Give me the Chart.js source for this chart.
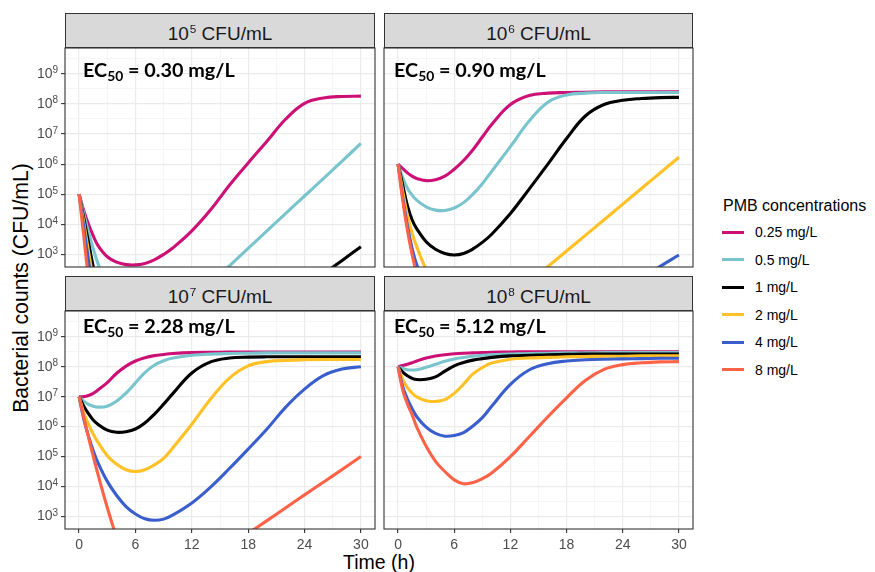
<!DOCTYPE html>
<html>
<head>
<meta charset="utf-8">
<title>PMB time-kill simulations</title>
<script src="https://cdn.jsdelivr.net/npm/chart.js@4.4.1/dist/chart.umd.min.js"></script>
<style>
    body { margin: 0; background: #ffffff; }
    #figure { position: relative; width: 875px; height: 572px; overflow: hidden; background: #ffffff;
              font-family: 'Liberation Sans', Arial, sans-serif; }
    #figure canvas { position: absolute; }
    .strip { position: absolute; box-sizing: border-box; height: 35px; background: #D9D9D9; border: 1px solid #333333;
             color: #1A1A1A; font-size: 19px; line-height: 40px; text-align: center; white-space: nowrap; }
    .strip sup { font-size: 0.62em; line-height: 0; vertical-align: 0; position: relative; top: -0.6em; margin-left: 1px; }
    .ec50 { position: absolute; font-family: Lato, 'Open Sans', sans-serif; font-weight: bold; font-size: 19.8px;
            line-height: 19px; color: #000000; white-space: nowrap; }
    .ec50 sub { font-size: 0.7em; line-height: 0; vertical-align: 0; position: relative; top: 0.3em; }
    .axis-title { position: absolute; line-height: 20px; color: #000000; text-align: center; white-space: nowrap; }
    .legend-title { position: absolute; left: 723px; top: 198px; font-size: 16px; line-height: 16px; color: #000000; }
    .legend-key { position: absolute; left: 722px; width: 22px; height: 3px; }
    .legend-label { position: absolute; left: 755px; font-size: 14px; line-height: 14px; color: #000000; }
</style>
</head>
<body>
<div id="figure">
    <div class="axis-title" style="left: -129px; top: 278px; width: 300px; font-size: 21.2px; transform: rotate(-90deg);">Bacterial counts (CFU/mL)</div>
    <div class="axis-title" style="left: 279px; top: 552px; width: 200px; font-size: 19.5px;">Time (h)</div>
</div>
<script>
// sampling times (h)
const times = [0, 0.5, 1, 1.5, 2, 3, 4, 5, 6, 7, 8, 9, 10, 12, 14, 16, 18, 20, 22, 24, 26, 28, 30];

const concentrations = ['0.25 mg/L', '0.5 mg/L', '1 mg/L', '2 mg/L', '4 mg/L', '8 mg/L'];
const lineColors = ['#CD1076', '#7AC5CD', '#000000', '#FFC125', '#3A5FCD', '#FF6347'];

// initial inoculum (log10 CFU/mL) and fitted EC50 for each panel
const inoculumLog = [5, 6, 7, 8];
const ec50Labels = ['0.30', '0.90', '2.28', '5.12'];

// predicted counts, log10 CFU/mL, one row per PMB concentration
const inoculum1e5 = [
    [5.00, 4.45, 4.00, 3.62, 3.30, 2.92, 2.74, 2.66, 2.65, 2.70, 2.82, 3.00, 3.22, 3.78, 4.48, 5.30, 6.04, 6.76, 7.50, 8.02, 8.20, 8.25, 8.26],
    [5.00, 4.35, 3.75, 3.20, 2.70, 2.00, 1.55, 1.25, 1.05, 0.95, 0.92, 0.95, 1.05, 1.45, 2.03, 2.62, 3.20, 3.78, 4.36, 4.94, 5.52, 6.10, 6.69],
    [5.00, 4.20, 3.40, 2.60, 1.90, 0.95, 0.35, -0.05, -0.30, -0.45, -0.55, -0.58, -0.58, -0.45, -0.20, 0.12, 0.50, 0.96, 1.42, 1.88, 2.34, 2.80, 3.25],
    [5.00, 4.05, 3.10, 2.20, 1.45, 0.50, -0.10, -0.50, -0.75, -0.90, -1.00, -1.05, -1.05, -0.95, -0.75, -0.50, -0.20, 0.10, 0.40, 0.70, 1.00, 1.30, 1.60],
    [5.00, 3.90, 2.80, 1.85, 1.05, 0.00, -0.70, -1.20, -1.55, -1.80, -1.95, -2.05, -2.10, -2.05, -1.90, -1.70, -1.45, -1.20, -0.95, -0.70, -0.45, -0.20, 0.05],
    [5.00, 3.60, 2.20, 1.05, 0.10, -1.20, -2.00, -2.55, -2.90, -3.15, -3.30, -3.40, -3.45, -3.45, -3.35, -3.20, -3.00, -2.80, -2.60, -2.40, -2.20, -2.00, -1.80]
];
const inoculum1e6 = [
    [6.00, 5.85, 5.71, 5.60, 5.52, 5.45, 5.48, 5.60, 5.83, 6.12, 6.48, 6.90, 7.32, 7.98, 8.28, 8.36, 8.38, 8.39, 8.40, 8.40, 8.40, 8.40, 8.40],
    [6.00, 5.55, 5.20, 4.97, 4.80, 4.58, 4.47, 4.46, 4.54, 4.72, 5.00, 5.35, 5.76, 6.58, 7.43, 8.06, 8.30, 8.36, 8.38, 8.38, 8.38, 8.38, 8.38],
    [6.00, 5.30, 4.62, 4.15, 3.85, 3.42, 3.17, 3.03, 2.98, 3.03, 3.18, 3.40, 3.67, 4.36, 5.17, 6.00, 6.85, 7.60, 7.98, 8.12, 8.18, 8.21, 8.22],
    [6.00, 5.10, 4.30, 3.70, 3.25, 2.50, 2.00, 1.70, 1.50, 1.40, 1.35, 1.35, 1.40, 1.62, 2.02, 2.59, 3.11, 3.63, 4.15, 4.67, 5.19, 5.71, 6.23],
    [6.00, 4.90, 3.95, 3.20, 2.65, 1.90, 1.40, 1.05, 0.80, 0.62, 0.50, 0.42, 0.38, 0.36, 0.42, 0.55, 0.80, 1.10, 1.45, 1.82, 2.20, 2.60, 2.98],
    [6.00, 4.80, 3.80, 3.00, 2.35, 1.40, 0.70, 0.20, -0.10, -0.30, -0.40, -0.45, -0.45, -0.35, -0.15, 0.10, 0.35, 0.60, 0.85, 1.10, 1.35, 1.60, 1.85]
];
const inoculum1e7 = [
    [7.00, 7.00, 7.04, 7.11, 7.22, 7.47, 7.78, 8.02, 8.19, 8.30, 8.37, 8.41, 8.44, 8.47, 8.48, 8.49, 8.49, 8.49, 8.49, 8.49, 8.49, 8.49, 8.49],
    [7.00, 6.85, 6.74, 6.68, 6.65, 6.68, 6.85, 7.12, 7.46, 7.80, 8.05, 8.20, 8.29, 8.38, 8.42, 8.44, 8.45, 8.46, 8.46, 8.46, 8.46, 8.46, 8.46],
    [7.00, 6.68, 6.43, 6.22, 6.08, 5.88, 5.81, 5.83, 5.92, 6.12, 6.41, 6.75, 7.11, 7.79, 8.16, 8.29, 8.32, 8.33, 8.33, 8.33, 8.33, 8.33, 8.33],
    [7.00, 6.45, 6.08, 5.75, 5.48, 5.03, 4.74, 4.56, 4.50, 4.56, 4.72, 4.94, 5.30, 6.08, 6.92, 7.62, 8.03, 8.17, 8.21, 8.23, 8.24, 8.24, 8.24],
    [7.00, 6.25, 5.68, 5.20, 4.80, 4.17, 3.70, 3.33, 3.08, 2.92, 2.87, 2.91, 3.05, 3.45, 3.98, 4.60, 5.25, 5.92, 6.65, 7.25, 7.70, 7.92, 8.00],
    [7.00, 6.30, 5.65, 5.02, 4.42, 3.30, 2.30, 1.50, 1.00, 0.75, 0.65, 0.65, 0.75, 1.15, 1.57, 2.00, 2.43, 2.86, 3.29, 3.72, 4.14, 4.57, 5.00]
];
const inoculum1e8 = [
    [8.00, 8.04, 8.08, 8.13, 8.19, 8.29, 8.36, 8.40, 8.43, 8.45, 8.46, 8.47, 8.48, 8.49, 8.50, 8.50, 8.50, 8.50, 8.50, 8.50, 8.50, 8.50, 8.50],
    [8.00, 7.94, 7.90, 7.89, 7.90, 7.98, 8.08, 8.18, 8.26, 8.31, 8.35, 8.38, 8.40, 8.42, 8.44, 8.45, 8.46, 8.46, 8.47, 8.47, 8.47, 8.47, 8.47],
    [8.00, 7.82, 7.70, 7.61, 7.57, 7.58, 7.66, 7.85, 8.03, 8.14, 8.22, 8.27, 8.31, 8.36, 8.38, 8.40, 8.41, 8.42, 8.42, 8.42, 8.42, 8.42, 8.42],
    [8.00, 7.58, 7.30, 7.12, 6.99, 6.86, 6.84, 6.90, 7.11, 7.42, 7.76, 7.97, 8.12, 8.25, 8.29, 8.31, 8.33, 8.34, 8.35, 8.35, 8.36, 8.36, 8.36],
    [8.00, 7.33, 6.92, 6.60, 6.33, 5.98, 5.77, 5.68, 5.70, 5.80, 6.02, 6.30, 6.68, 7.41, 7.89, 8.10, 8.19, 8.23, 8.25, 8.26, 8.27, 8.28, 8.28],
    [8.00, 7.22, 6.76, 6.40, 5.98, 5.34, 4.84, 4.50, 4.22, 4.09, 4.13, 4.26, 4.45, 5.00, 5.66, 6.33, 6.96, 7.54, 7.91, 8.07, 8.13, 8.16, 8.17]
];
const panelSeries = [inoculum1e5, inoculum1e6, inoculum1e7, inoculum1e8];

// axes: x in hours, y grid in log10 steps (whole = major, half = minor)
const xRange = [-1.5, 31.5];
const xGridTicks = [0, 3, 6, 9, 12, 15, 18, 21, 24, 27, 30];
const yRangeLog = [2.58, 9.86];
const yGridLogs = [3, 3.5, 4, 4.5, 5, 5.5, 6, 6.5, 7, 7.5, 8, 8.5, 9, 9.5];

const tickFont = "'Liberation Sans', Arial, sans-serif";

// canvas placement of the four facets
const panelLayout = [
    { left: 0,   top: 40,  width: 380, height: 235, pad: { top: 8, right: 5, bottom: 8,  left: 0 }, showX: false, showY: true,  ecLeft: 83,  ecTop: 59.5 },
    { left: 380, top: 40,  width: 320, height: 235, pad: { top: 8, right: 7, bottom: 8,  left: 0 }, showX: false, showY: false, ecLeft: 394, ecTop: 59.5 },
    { left: 0,   top: 303, width: 380, height: 269, pad: { top: 8, right: 5, bottom: 21, left: 0 }, showX: true,  showY: true,  ecLeft: 83,  ecTop: 315.5 },
    { left: 380, top: 303, width: 320, height: 269, pad: { top: 8, right: 7, bottom: 21, left: 0 }, showX: true,  showY: false, ecLeft: 394, ecTop: 315.5 }
];

const panelBorder = {
    id: 'panelBorder',
    afterDraw(chart) {
        const { ctx, chartArea: a } = chart;
        ctx.save();
        ctx.strokeStyle = '#333333';
        ctx.lineWidth = 1.1;
        ctx.strokeRect(a.left, a.top, a.right - a.left, a.bottom - a.top);
        ctx.restore();
    }
};

// the axis prints the "10"; this adds the exponent next to it
const tickExponents = {
    id: 'tickExponents',
    afterDraw(chart) {
        const scale = chart.scales.y;
        if (!scale.options.ticks.display) return;
        const ctx = chart.ctx;
        ctx.save();
        ctx.fillStyle = '#4D4D4D';
        ctx.font = '10px ' + tickFont;
        ctx.textAlign = 'left';
        ctx.textBaseline = 'alphabetic';
        scale.ticks.forEach(tick => {
            if (!tick.major) return;
            const y = scale.getPixelForValue(tick.value);
            ctx.fillText(String(Math.round(Math.log10(tick.value))), scale.right - 12.5, y - 0.5);
        });
        ctx.restore();
    }
};

class TimeKillFigure {
    constructor() {
        this.figure = document.getElementById('figure');
        this.charts = [];
        this.init();
    }

    init() {
        Chart.defaults.font.family = tickFont;
        panelLayout.forEach((layout, i) => {
            this.createPanel(layout, panelSeries[i]);
            this.addStrip(layout, inoculumLog[i]);
            this.addEc50(layout, ec50Labels[i]);
        });
        this.buildLegend();
    }

    addStrip(layout, logValue) {
        const plotLeft = layout.left + (layout.showY ? 65 : 4);
        const plotRight = layout.left + layout.width - layout.pad.right;
        const strip = document.createElement('div');
        strip.className = 'strip';
        strip.style.left = plotLeft + 'px';
        strip.style.width = (plotRight - plotLeft) + 'px';
        strip.style.top = (layout.top + layout.pad.top - 35) + 'px';
        strip.innerHTML = `10<sup>${logValue}</sup> CFU/mL`;
        this.figure.appendChild(strip);
    }

    addEc50(layout, value) {
        const label = document.createElement('div');
        label.className = 'ec50';
        label.style.left = layout.ecLeft + 'px';
        label.style.top = layout.ecTop + 'px';
        label.innerHTML = `EC<sub>50</sub> = ${value} mg/L`;
        this.figure.appendChild(label);
    }

    buildLegend() {
        const title = document.createElement('div');
        title.className = 'legend-title';
        title.textContent = 'PMB concentrations';
        this.figure.appendChild(title);

        concentrations.forEach((name, i) => {
            const y = 232 + i * 27.5;
            const key = document.createElement('div');
            key.className = 'legend-key';
            key.style.top = (y - 1.5) + 'px';
            key.style.background = lineColors[i];
            this.figure.appendChild(key);

            const label = document.createElement('div');
            label.className = 'legend-label';
            label.style.top = (y - 7) + 'px';
            label.textContent = name;
            this.figure.appendChild(label);
        });
    }

    gridOptions(showTicks) {
        const isMajor = ctx => ctx.tick && ctx.tick.major;
        return {
            color: ctx => isMajor(ctx) ? '#EBEBEB' : '#F2F2F2',
            lineWidth: ctx => isMajor(ctx) ? 1.2 : 0.7,
            drawTicks: showTicks,
            tickLength: 4,
            tickWidth: 1.1,
            tickColor: ctx => isMajor(ctx) ? '#333333' : 'rgba(0,0,0,0)'
        };
    }

    createPanel(layout, series) {
        const canvas = document.createElement('canvas');
        canvas.width = layout.width;
        canvas.height = layout.height;
        canvas.style.left = layout.left + 'px';
        canvas.style.top = layout.top + 'px';
        this.figure.appendChild(canvas);

        const datasets = series.map((logCounts, i) => ({
            label: concentrations[i],
            data: times.map((t, k) => ({ x: t, y: 10 ** logCounts[k] })),
            borderColor: lineColors[i],
            borderWidth: 3.1,
            pointRadius: 0,
            tension: 0.4,
            clip: 0,
            order: series.length - i
        }));

        const chart = new Chart(canvas.getContext('2d'), {
            type: 'line',
            data: { datasets },
            plugins: [panelBorder, tickExponents],
            options: {
                responsive: false,
                animation: false,
                devicePixelRatio: 1,
                layout: { padding: layout.pad },
                plugins: { legend: { display: false }, tooltip: { enabled: false } },
                scales: {
                    x: {
                        type: 'linear',
                        min: xRange[0],
                        max: xRange[1],
                        afterBuildTicks: scale => {
                            scale.ticks = xGridTicks.map(v => ({ value: v, major: v % 6 === 0 }));
                        },
                        afterFit: scale => {
                            scale.height = layout.showX ? 22 : 0;
                            scale.paddingLeft = 0;
                            scale.paddingRight = 0;
                        },
                        ticks: {
                            display: layout.showX,
                            autoSkip: false,
                            maxRotation: 0,
                            padding: 4,
                            color: '#4D4D4D',
                            font: { size: 14 },
                            callback: value => value % 6 === 0 ? String(value) : ''
                        },
                        grid: this.gridOptions(layout.showX),
                        border: { display: false }
                    },
                    y: {
                        type: 'logarithmic',
                        min: 10 ** yRangeLog[0],
                        max: 10 ** yRangeLog[1],
                        afterBuildTicks: scale => {
                            scale.ticks = yGridLogs.map(p => ({ value: 10 ** p, major: Number.isInteger(p) }));
                        },
                        afterFit: scale => {
                            scale.width = layout.showY ? 65 : 4;
                            scale.paddingTop = 0;
                            scale.paddingBottom = 0;
                        },
                        ticks: {
                            display: layout.showY,
                            autoSkip: false,
                            padding: 8.5,
                            color: '#4D4D4D',
                            font: { size: 14 },
                            callback: value => {
                                const p = Math.log10(value);
                                return Math.abs(p - Math.round(p)) < 1e-6 ? '10' : '';
                            }
                        },
                        grid: this.gridOptions(layout.showY),
                        border: { display: false }
                    }
                }
            }
        });
        this.charts.push(chart);
    }
}

document.addEventListener('DOMContentLoaded', () => {
    new TimeKillFigure();
});
</script>
</body>
</html>
